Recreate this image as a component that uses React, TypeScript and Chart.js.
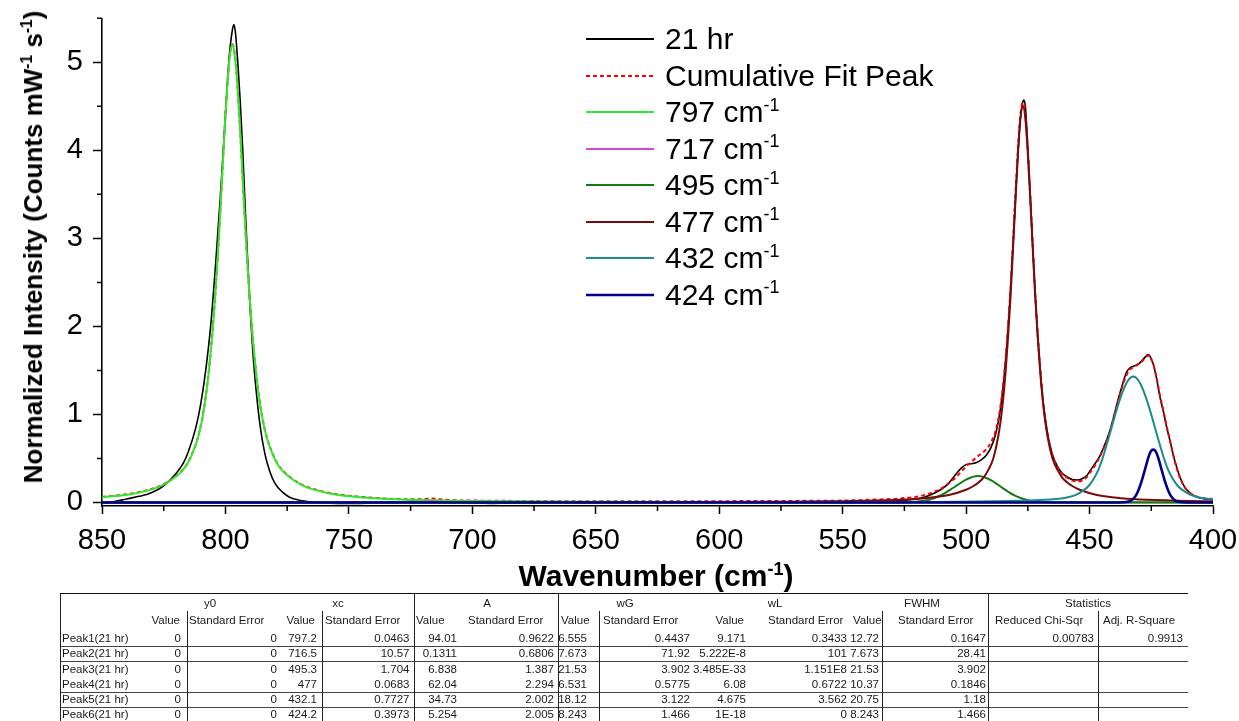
import React, { useEffect, useRef } from "react";
import { Chart, registerables } from "chart.js";

Chart.register(...registerables);

type P = [number, number];

// ---------- axis ticks ----------
const xTickValues = [850, 800, 750, 700, 650, 600, 550, 500, 450, 400];
const xMinorTickValues = [825, 775, 725, 675, 625, 575, 525, 475, 425];
const yTickValues = [0, 1, 2, 3, 4, 5];
const yMinorTickValues = [0.5, 1.5, 2.5, 3.5, 4.5, 5.5];

// ---------- series (wavenumber, intensity) ----------
const spectrum21hr: P[] = [
  [850, -0.01], [845, 0.01], [840, 0.04], [835, 0.07], [830, 0.11], [825, 0.19], [820, 0.33], [817, 0.45],
  [815, 0.58], [812, 0.85], [810, 1.12], [808, 1.5], [806, 2.0], [804, 2.7], [802, 3.5], [800, 4.4],
  [798.5, 5.05], [797.3, 5.35], [796.6, 5.43], [796, 5.35], [795, 5.0], [794, 4.55], [793, 4.0], [792, 3.35],
  [791, 2.75], [790, 2.2], [789, 1.75], [788, 1.4], [786, 0.88], [784, 0.55], [782, 0.35], [780, 0.22],
  [777, 0.12], [774, 0.06], [770, 0.025], [765, 0.005], [760, -0.005], [750, -0.012], [740, -0.004], [728, 0.006],
  [718, 0.02], [714, 0.01], [705, 0.002], [692, -0.01], [684, -0.004], [670, 0.002], [640, 0.003], [600, 0.004],
  [560, 0.006], [540, 0.008], [530, 0.015], [525, 0.025], [520, 0.04], [515, 0.08], [510, 0.15], [507, 0.22],
  [505, 0.29], [502, 0.39], [500, 0.43], [498, 0.44], [496, 0.45], [494, 0.48], [492, 0.53], [490, 0.62],
  [488, 0.78], [486, 1.08], [484, 1.62], [482, 2.42], [480, 3.45], [479, 3.97], [478, 4.37], [477.2, 4.53],
  [476.6, 4.57], [476, 4.5], [475, 4.03], [474, 3.48], [473, 2.9], [472, 2.36], [471, 1.9], [470, 1.52],
  [469, 1.2], [468, 0.96], [467, 0.78], [465, 0.54], [463, 0.41], [461, 0.33], [459, 0.29], [457, 0.26],
  [455, 0.255], [453, 0.27], [451, 0.31], [449.8, 0.36], [447.8, 0.44], [445.8, 0.53], [443.8, 0.66], [441.7, 0.82],
  [439.7, 1.03], [437.7, 1.24], [435, 1.48], [433.6, 1.53], [432, 1.55], [430.3, 1.57], [428.5, 1.62], [427.2, 1.66],
  [426.3, 1.68], [425.5, 1.66], [424.3, 1.58], [423, 1.43], [421.5, 1.2], [420, 1.02], [418.8, 0.86], [417.4, 0.7],
  [416.1, 0.54], [414.7, 0.4], [413.4, 0.29], [411.4, 0.17], [409.4, 0.11], [407.3, 0.07], [405.3, 0.05], [403, 0.04],
  [400, 0.03],
];

const cumulativeFit: P[] = [
  [850, 0.062], [837.2, 0.105], [827.2, 0.18], [822.2, 0.255], [817.2, 0.375], [815.2, 0.455], [813.2, 0.575], [811.2, 0.735],
  [809.2, 0.985], [807.2, 1.375], [806.2, 1.645], [805.2, 1.955], [804.2, 2.335], [803.2, 2.765], [802.2, 3.255], [801.2, 3.785],
  [800.2, 4.305], [799.2, 4.765], [798.2, 5.085], [797.2, 5.205], [796.2, 5.085], [795.2, 4.765], [794.2, 4.305], [793.2, 3.785],
  [792.2, 3.255], [791.2, 2.765], [790.2, 2.335], [789.2, 1.955], [788.2, 1.645], [787.2, 1.375], [785.2, 0.985], [783.2, 0.735],
  [781.2, 0.575], [779.2, 0.455], [777.2, 0.375], [772.2, 0.255], [767.2, 0.18], [757.2, 0.105], [744.4, 0.062], [727.2, 0.038],
  [720, 0.038], [716.5, 0.044], [713, 0.036], [706, 0.024], [697.2, 0.021], [670, 0.016], [647.2, 0.014], [600, 0.015],
  [570, 0.018], [550, 0.022], [540, 0.03], [530, 0.04], [525, 0.05], [520, 0.065], [515, 0.1], [510, 0.16],
  [507, 0.22], [504, 0.29], [501, 0.38], [498, 0.46], [495, 0.53], [492, 0.6], [490, 0.68], [488, 0.82],
  [486, 1.11], [484, 1.63], [482, 2.44], [480, 3.52], [479, 4.02], [478, 4.41], [477, 4.54], [476.5, 4.53],
  [476, 4.4], [475, 4.0], [474, 3.47], [473, 2.91], [472, 2.37], [471, 1.91], [470, 1.52], [469, 1.2],
  [468, 0.96], [467, 0.78], [465, 0.53], [463, 0.4], [461, 0.32], [459, 0.28], [457, 0.25], [455, 0.24],
  [453, 0.25], [451, 0.29], [449.8, 0.34], [447.8, 0.42], [445.8, 0.52], [443.8, 0.65], [441.7, 0.81], [439.7, 1.02],
  [437.7, 1.23], [435, 1.45], [433.6, 1.51], [432, 1.54], [430.3, 1.57], [428.5, 1.61], [427.2, 1.65], [426.3, 1.67],
  [425.5, 1.65], [424.3, 1.58], [423, 1.44], [421.5, 1.22], [420, 1.03], [418.8, 0.87], [417.4, 0.7], [416.1, 0.54],
  [414.7, 0.39], [413.4, 0.28], [411.4, 0.17], [409.4, 0.11], [407.3, 0.075], [405.3, 0.055], [403, 0.045], [400, 0.04],
];

const peak797: P[] = [
  [850, 0.057], [837.2, 0.1], [827.2, 0.174], [822.2, 0.25], [817.2, 0.37], [815.2, 0.45], [813.2, 0.57], [811.2, 0.73],
  [809.2, 0.98], [807.2, 1.37], [806.2, 1.64], [805.2, 1.95], [804.2, 2.33], [803.2, 2.76], [802.2, 3.25], [801.2, 3.78],
  [800.2, 4.3], [799.2, 4.76], [798.2, 5.08], [797.2, 5.2], [796.2, 5.08], [795.2, 4.76], [794.2, 4.3], [793.2, 3.78],
  [792.2, 3.25], [791.2, 2.76], [790.2, 2.33], [789.2, 1.95], [788.2, 1.64], [787.2, 1.37], [785.2, 0.98], [783.2, 0.73],
  [781.2, 0.57], [779.2, 0.45], [777.2, 0.37], [772.2, 0.25], [767.2, 0.174], [757.2, 0.1], [744.4, 0.057], [727.2, 0.033],
  [697.2, 0.016], [647.2, 0.007], [547.2, 0.0026], [400, 0.001],
];

const peak717: P[] = [
  [850, 0], [730, 0], [725, 0.001], [722, 0.004], [720, 0.009], [718, 0.015], [716.5, 0.016], [715, 0.015],
  [713, 0.009], [711, 0.004], [708, 0.001], [700, 0], [400, 0],
];

const peak495: P[] = [
  [850, 0], [540, 0], [530, 0.001], [525, 0.003], [520, 0.009], [515, 0.03], [510, 0.085], [505, 0.17],
  [500, 0.26], [495.3, 0.3], [490, 0.255], [485, 0.16], [480, 0.075], [475, 0.026], [470, 0.007], [465, 0.001],
  [460, 0], [400, 0],
];

const peak477: P[] = [
  [850, 0.0006], [727, 0.0013], [627, 0.0036], [577, 0.008], [554, 0.0134], [527, 0.031], [517, 0.049], [507, 0.086],
  [500, 0.144], [497, 0.187], [495, 0.227], [493, 0.28], [491, 0.37], [489, 0.5], [487, 0.75], [486, 0.93],
  [485, 1.17], [484, 1.49], [483, 1.88], [482, 2.34], [481, 2.88], [480, 3.44], [479, 3.96], [478, 4.36],
  [477, 4.5], [476, 4.36], [475, 3.96], [474, 3.44], [473, 2.88], [472, 2.34], [471, 1.88], [470, 1.49],
  [469, 1.17], [468, 0.93], [467, 0.75], [465, 0.5], [463, 0.37], [461, 0.28], [459, 0.227], [457, 0.187],
  [454, 0.144], [447, 0.086], [437, 0.049], [427, 0.031], [400, 0.0134],
];

const peak432: P[] = [
  [850, 0.0003], [582.3, 0.002], [512.3, 0.0067], [482.3, 0.017], [472.3, 0.025], [462.3, 0.042], [458.3, 0.062], [455.3, 0.09],
  [452.3, 0.14], [450.3, 0.19], [448.3, 0.27], [446.3, 0.38], [444.3, 0.54], [442.3, 0.73], [440.3, 0.93], [438.3, 1.12],
  [436.3, 1.28], [434.3, 1.39], [432.3, 1.43], [430.3, 1.39], [428.3, 1.28], [426.3, 1.12], [424.3, 0.93], [422.3, 0.73],
  [420.3, 0.54], [418.3, 0.38], [416.3, 0.27], [414.3, 0.19], [412.3, 0.14], [409.3, 0.09], [406.3, 0.062], [402.3, 0.042],
  [400, 0.036],
];

const peak424: P[] = [
  [850, 0], [440, 0], [436.2, 0.002], [434.2, 0.01], [433.2, 0.022], [432.2, 0.044], [431.2, 0.081], [430.2, 0.14],
  [429.2, 0.216], [428.2, 0.31], [427.2, 0.41], [426.2, 0.51], [425.2, 0.58], [424.2, 0.6], [423.2, 0.58], [422.2, 0.51],
  [421.2, 0.41], [420.2, 0.31], [419.2, 0.216], [418.2, 0.14], [417.2, 0.081], [416.2, 0.044], [415.2, 0.022], [414.2, 0.01],
  [412.2, 0.002], [408, 0], [400, 0],
];

// ---------- legend ----------
const legendMain = ["21 hr", "Cumulative Fit Peak", "797 cm", "717 cm", "495 cm", "477 cm", "432 cm", "424 cm"];
const legendSup = ["", "", "-1", "-1", "-1", "-1", "-1", "-1"];

// ---------- fit-result table ----------
const tableGroups = ["y0", "xc", "A", "wG", "wL", "FWHM", "Statistics"];
const tableSubHeads = [
  "Value", "Standard Error", "Value", "Standard Error", "Value", "Standard Error", "Value", "Standard Error",
  "Value", "Standard Error", "Value", "Standard Error", "Reduced Chi-Sqr", "Adj. R-Square",
];
const rowLabels = ["Peak1(21 hr)", "Peak2(21 hr)", "Peak3(21 hr)", "Peak4(21 hr)", "Peak5(21 hr)", "Peak6(21 hr)"];
const y0Val = ["0", "0", "0", "0", "0", "0"];
const y0SE = ["0", "0", "0", "0", "0", "0"];
const xcVal = ["797.2", "716.5", "495.3", "477", "432.1", "424.2"];
const xcSE = ["0.0463", "10.57", "1.704", "0.0683", "0.7727", "0.3973"];
const aVal = ["94.01", "0.1311", "6.838", "62.04", "34.73", "5.254"];
const aSE = ["0.9622", "0.6806", "1.387", "2.294", "2.002", "2.005"];
const wgVal = ["6.555", "7.673", "21.53", "6.531", "18.12", "8.243"];
const wgSE = ["0.4437", "71.92", "3.902", "0.5775", "3.122", "1.466"];
const wlVal = ["9.171", "5.222E-8", "3.485E-33", "6.08", "4.675", "1E-18"];
const wlSE = ["0.3433", "101", "1.151E8", "0.6722", "3.562", "0"];
const fwhmVal = ["12.72", "7.673", "21.53", "10.37", "20.75", "8.243"];
const fwhmSE = ["0.1647", "28.41", "3.902", "0.1846", "1.18", "1.466"];
const chiSqr = ["0.00783", "", "", "", "", ""];
const adjR2 = ["0.9913", "", "", "", "", ""];

const FONT = '"Liberation Sans", Arial, Helvetica, sans-serif';

const seriesStyles = [
  { label: "21 hr", data: spectrum21hr, color: "#000000", width: 1.6, dash: [] as number[], order: 9 },
  { label: "Cumulative Fit Peak", data: cumulativeFit, color: "#ff0000", width: 2, dash: [4, 3], order: 8 },
  { label: "797 cm-1", data: peak797, color: "#2eea2e", width: 2, dash: [], order: 7 },
  { label: "717 cm-1", data: peak717, color: "#dd44dd", width: 1.5, dash: [], order: 6 },
  { label: "495 cm-1", data: peak495, color: "#147a14", width: 2, dash: [], order: 5 },
  { label: "477 cm-1", data: peak477, color: "#7d0a0a", width: 2, dash: [], order: 4 },
  { label: "432 cm-1", data: peak432, color: "#1a8c8c", width: 2, dash: [], order: 3 },
  { label: "424 cm-1", data: peak424, color: "#00008b", width: 2.6, dash: [], order: 2 },
];

const minorTicksPlugin = {
  id: "minorTicks",
  afterDraw(chart: any) {
    const { ctx, chartArea, scales } = chart;
    ctx.save();
    ctx.strokeStyle = "#000";
    ctx.lineWidth = 1.5;
    ctx.beginPath();
    for (const v of xMinorTickValues) {
      const px = scales.x.getPixelForValue(v);
      ctx.moveTo(px, chartArea.bottom);
      ctx.lineTo(px, chartArea.bottom + 5);
    }
    for (const v of yMinorTickValues) {
      const py = scales.y.getPixelForValue(v);
      ctx.moveTo(chartArea.left, py);
      ctx.lineTo(chartArea.left - 5, py);
    }
    ctx.stroke();
    ctx.restore();
  },
};

const supStyle: React.CSSProperties = {
  fontSize: "0.6em",
  position: "relative",
  top: "-0.62em",
  lineHeight: 0,
  verticalAlign: "baseline",
};

function Cell(props: { text: string; x: number; y: number; align: "left" | "right" | "center" }) {
  const { text, x, y, align } = props;
  const w = 220;
  const left = align === "left" ? x : align === "right" ? x - w : x - w / 2;
  return (
    <div
      style={{
        position: "absolute",
        left,
        top: y - 8,
        width: w,
        height: 16,
        lineHeight: "16px",
        textAlign: align,
        whiteSpace: "nowrap",
        fontSize: 11.5,
        fontFamily: FONT,
        color: "#1a1a1a",
      }}
    >
      {text}
    </div>
  );
}

function FitTable() {
  const top = 593;
  const groupCenters = [210, 338, 487, 625, 775, 922, 1088];
  const subPos: [number, "left" | "right"][] = [
    [180, "right"], [189, "left"], [315, "right"], [325, "left"], [416, "left"], [468, "left"], [561, "left"],
    [603, "left"], [744, "right"], [768, "left"], [853, "left"], [898, "left"], [995, "left"], [1103, "left"],
  ];
  const valueCols: { vals: string[]; right: number }[] = [
    { vals: y0Val, right: 181 },
    { vals: y0SE, right: 277 },
    { vals: xcVal, right: 317 },
    { vals: xcSE, right: 409.5 },
    { vals: aVal, right: 457 },
    { vals: aSE, right: 554 },
    { vals: wgVal, right: 587 },
    { vals: wgSE, right: 690 },
    { vals: wlVal, right: 746 },
    { vals: wlSE, right: 847 },
    { vals: fwhmVal, right: 879 },
    { vals: fwhmSE, right: 986 },
    { vals: chiSqr, right: 1094 },
    { vals: adjR2, right: 1183 },
  ];
  const rowY = [638, 653, 668.5, 684, 699, 714];
  const vLines: [number, number][] = [
    [60, 593], [187, 611], [322, 611], [414, 593], [558, 593], [599, 611], [882, 611], [988, 593], [1098, 611],
  ];
  const hLines = [593, 645.5, 661, 691.5, 706.5];
  return (
    <div style={{ position: "absolute", left: 0, top: 0, width: 1239, height: 721 }}>
      {hLines.map((y, i) => (
        <div key={"h" + i} style={{ position: "absolute", left: 60, top: y, width: 1128, height: 1, background: i === 0 ? "#111" : "#444" }} />
      ))}
      {vLines.map(([x, y0], i) => (
        <div key={"v" + i} style={{ position: "absolute", left: x, top: y0, width: 1, height: 721 - y0, background: "#222" }} />
      ))}
      {tableGroups.map((g, i) => (
        <Cell key={"g" + i} text={g} x={groupCenters[i]} y={top + 10} align="center" />
      ))}
      {tableSubHeads.map((s, i) => (
        <Cell key={"s" + i} text={s} x={subPos[i][0]} y={top + 27} align={subPos[i][1]} />
      ))}
      {rowLabels.map((r, i) => (
        <Cell key={"r" + i} text={r} x={62} y={rowY[i]} align="left" />
      ))}
      {valueCols.map((c, ci) =>
        c.vals.map((v, ri) => <Cell key={"c" + ci + "_" + ri} text={v} x={c.right} y={rowY[ri]} align="right" />)
      )}
    </div>
  );
}

export default function App() {
  const canvasRef = useRef<HTMLCanvasElement | null>(null);

  useEffect(() => {
    const canvas = canvasRef.current;
    if (!canvas) return;
    const chart = new Chart(canvas, {
      type: "line",
      data: {
        datasets: seriesStyles.map((s) => ({
          label: s.label,
          data: s.data.map(([x, y]) => ({ x, y })),
          borderColor: s.color,
          backgroundColor: s.color,
          borderWidth: s.width,
          borderDash: s.dash,
          pointRadius: 0,
          pointHoverRadius: 0,
          fill: false,
          cubicInterpolationMode: "monotone" as const,
          order: s.order,
        })),
      },
      options: {
        animation: false,
        responsive: false,
        devicePixelRatio: 1,
        events: [],
        layout: { padding: { top: 18.3, right: 26, left: 0, bottom: 0 } },
        plugins: {
          legend: { display: false },
          tooltip: { enabled: false },
          title: { display: false },
        },
        scales: {
          x: {
            type: "linear",
            reverse: true,
            min: 400,
            max: 850,
            afterBuildTicks: (scale: any) => {
              scale.ticks = xTickValues.map((v) => ({ value: v }));
            },
            afterFit: (scale: any) => {
              scale.height = 87;
              scale.paddingLeft = 0;
              scale.paddingRight = 0;
            },
            grid: {
              drawOnChartArea: false,
              drawTicks: true,
              tickLength: 8,
              tickWidth: 1.5,
              tickColor: "#000",
            },
            border: { display: true, color: "#000", width: 1.6 },
            ticks: {
              color: "#000",
              font: { family: FONT, size: 29 },
              padding: 10,
              maxRotation: 0,
              autoSkip: false,
              callback: (v: any) => String(v),
            },
          },
          y: {
            type: "linear",
            min: -0.04,
            max: 5.5,
            afterBuildTicks: (scale: any) => {
              scale.ticks = yTickValues.map((v) => ({ value: v }));
            },
            afterFit: (scale: any) => {
              scale.width = 102;
              scale.paddingTop = 0;
              scale.paddingBottom = 0;
            },
            grid: {
              drawOnChartArea: false,
              drawTicks: true,
              tickLength: 9,
              tickWidth: 1.5,
              tickColor: "#000",
            },
            border: { display: true, color: "#000", width: 1.6 },
            ticks: {
              color: "#000",
              font: { family: FONT, size: 29 },
              padding: 10,
              autoSkip: false,
              callback: (v: any) => String(v),
            },
          },
        },
      },
      plugins: [minorTicksPlugin],
    });
    return () => chart.destroy();
  }, []);

  const legendTop = 39;
  const legendStep = 36.5;

  return (
    <div
      style={{
        position: "fixed",
        left: 0,
        top: 0,
        width: 1239,
        height: 721,
        background: "#fff",
        overflow: "hidden",
        fontFamily: FONT,
      }}
    >
      <canvas ref={canvasRef} width={1239} height={593} style={{ position: "absolute", left: 0, top: 0 }} />

      {/* y-axis title */}
      <div
        style={{
          position: "absolute",
          left: 33,
          top: 247,
          transform: "translate(-50%, -50%) rotate(-90deg)",
          whiteSpace: "nowrap",
          fontWeight: "bold",
          fontSize: 26,
          lineHeight: "30px",
          color: "#000",
        }}
      >
        Normalized Intensity (Counts mW<span style={supStyle}>-1</span> s<span style={supStyle}>-1</span>)
      </div>

      {/* x-axis title */}
      <div
        style={{
          position: "absolute",
          left: 656,
          top: 576,
          transform: "translate(-50%, -50%)",
          whiteSpace: "nowrap",
          fontWeight: "bold",
          fontSize: 30,
          lineHeight: "34px",
          color: "#000",
        }}
      >
        Wavenumber (cm<span style={supStyle}>-1</span>)
      </div>

      {/* legend */}
      {seriesStyles.map((s, i) => (
        <div
          key={s.label}
          style={{
            position: "absolute",
            left: 586,
            top: legendTop + i * legendStep - 18,
            height: 36,
            display: "flex",
            alignItems: "center",
            whiteSpace: "nowrap",
          }}
        >
          <svg width={68} height={8} style={{ display: "block" }}>
            <line
              x1={0}
              y1={4}
              x2={68}
              y2={4}
              stroke={s.color}
              strokeWidth={s.width < 2 ? 2 : s.width}
              strokeDasharray={s.dash.length ? s.dash.join(",") : undefined}
            />
          </svg>
          <span style={{ marginLeft: 11, fontSize: 30, lineHeight: "36px", color: "#000" }}>
            {legendMain[i]}
            {legendSup[i] ? <span style={supStyle}>{legendSup[i]}</span> : null}
          </span>
        </div>
      ))}

      <FitTable />
    </div>
  );
}
